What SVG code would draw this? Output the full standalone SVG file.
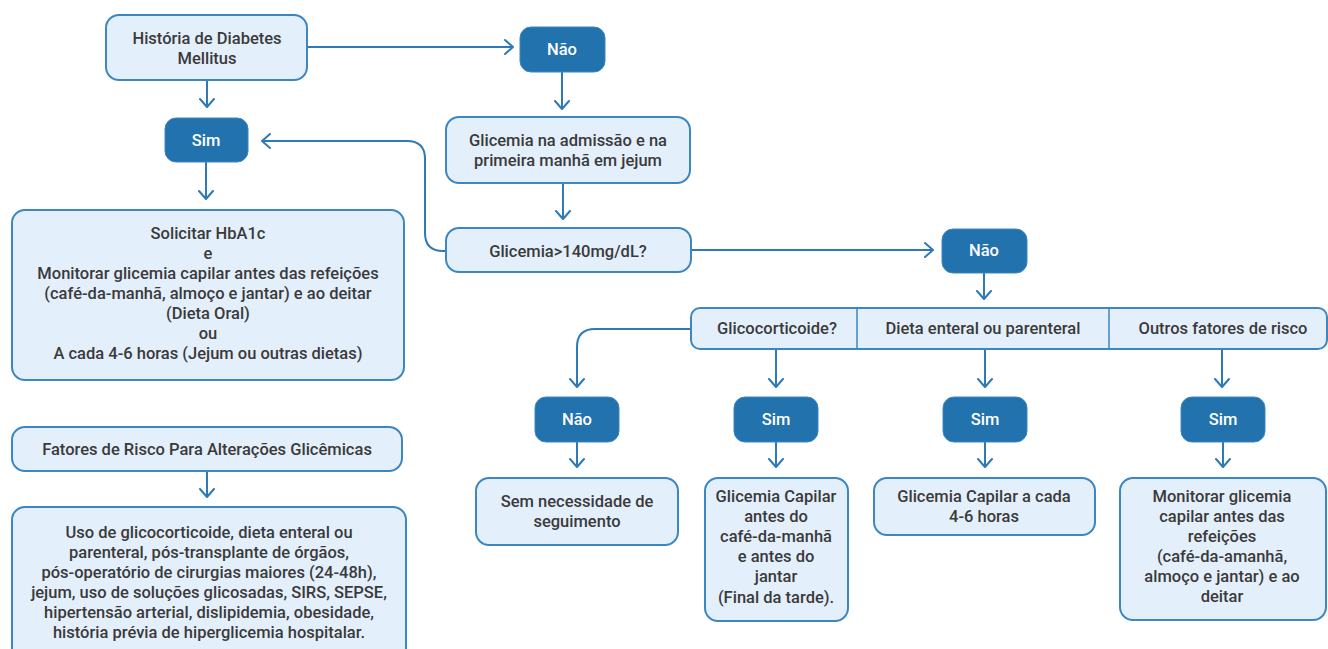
<svg xmlns="http://www.w3.org/2000/svg" width="1328" height="649" viewBox="0 0 1328 649">
<defs>
<marker id="arr" viewBox="0 0 10 16" refX="9" refY="8" markerWidth="10" markerHeight="16" markerUnits="userSpaceOnUse" orient="auto">
<path d="M1,1 L9,8 L1,15" fill="none" stroke="#2E7AB6" stroke-width="2" stroke-linecap="round" stroke-linejoin="round"/>
</marker>
<style>
.lt{fill:#E4EFFC;stroke:#3C86C2;stroke-width:2}
.dk{fill:#2272AE;stroke:#3C86C2;stroke-width:1}
.t{font-family:Roboto,"Liberation Sans",sans-serif;font-weight:500;font-size:16.5px;fill:#3A3A3A;text-anchor:middle}
.tw{font-family:Roboto,"Liberation Sans",sans-serif;font-weight:500;font-size:16.5px;fill:#FFFFFF;text-anchor:middle}
.c{fill:none;stroke:#2E7AB6;stroke-width:2;marker-end:url(#arr)}
</style>
</defs>
<rect width="1328" height="649" fill="#FFFFFF"/>
<g id="connectors">
<path class="c" d="M307,47 H513"/>
<path class="c" d="M207,81 V107"/>
<path class="c" d="M562,72 V109"/>
<path class="c" d="M206,162 V199"/>
<path class="c" d="M563,184 V219"/>
<path class="c" d="M446,251 H443 Q425,251 425,233 V159 Q425,141 407,141 H262"/>
<path class="c" d="M691,250 H933"/>
<path class="c" d="M984,273 V299"/>
<path class="c" d="M691,329 H595 Q577,329 577,347 V387"/>
<path class="c" d="M776,349 V387"/>
<path class="c" d="M985,349 V387"/>
<path class="c" d="M1222,349 V387"/>
<path class="c" d="M577,442 V467"/>
<path class="c" d="M776,442 V467"/>
<path class="c" d="M985,442 V467"/>
<path class="c" d="M1223,442 V467"/>
<path class="c" d="M207,471 V497"/>
</g>
<g id="n_historia">
<rect class="lt" x="106" y="15" width="201" height="65" rx="13"/>
<text class="t" x="207" y="44">História de Diabetes</text>
<text class="t" x="207" y="64">Mellitus</text>
</g>
<g id="n_nao1">
<rect class="dk" x="520" y="27" width="85" height="45" rx="11"/>
<text class="tw" x="562" y="55">Não</text>
</g>
<g id="n_sim1">
<rect class="dk" x="165" y="118" width="83" height="44" rx="11"/>
<text class="tw" x="206" y="146">Sim</text>
</g>
<g id="n_glic_adm">
<rect class="lt" x="446" y="117" width="244" height="66" rx="13"/>
<text class="t" x="568" y="146">Glicemia na admissão e na</text>
<text class="t" x="568" y="166">primeira manhã em jejum</text>
</g>
<g id="n_glic140">
<rect class="lt" x="446" y="228" width="245" height="44" rx="13"/>
<text class="t" x="568" y="257">Glicemia&gt;140mg/dL?</text>
</g>
<g id="n_nao2">
<rect class="dk" x="942" y="229" width="85" height="44" rx="11"/>
<text class="tw" x="984" y="256">Não</text>
</g>
<g id="n_solicitar">
<rect class="lt" x="12" y="210" width="392" height="170" rx="13"/>
<text class="t" x="208" y="239">Solicitar HbA1c</text>
<text class="t" x="208" y="259">e</text>
<text class="t" x="208" y="279">Monitorar glicemia capilar antes das refeições</text>
<text class="t" x="208" y="299">(café-da-manhã, almoço e jantar) e ao deitar</text>
<text class="t" x="208" y="319">(Dieta Oral)</text>
<text class="t" x="208" y="339">ou</text>
<text class="t" x="208" y="359">A cada 4-6 horas (Jejum ou outras dietas)</text>
</g>
<g id="n_fatores">
<rect class="lt" x="12" y="427" width="390" height="44" rx="13"/>
<text class="t" x="207" y="455">Fatores de Risco Para Alterações Glicêmicas</text>
</g>
<g id="n_uso">
<rect class="lt" x="12" y="507" width="394" height="160" rx="13"/>
<text class="t" x="209" y="538">Uso de glicocorticoide, dieta enteral ou</text>
<text class="t" x="209" y="558">parenteral, pós-transplante de órgãos,</text>
<text class="t" x="209" y="578">pós-operatório de cirurgias maiores (24-48h),</text>
<text class="t" x="209" y="598">jejum, uso de soluções glicosadas, SIRS, SEPSE,</text>
<text class="t" x="209" y="618">hipertensão arterial, dislipidemia, obesidade,</text>
<text class="t" x="209" y="638">história prévia de hiperglicemia hospitalar.</text>
</g>
<g id="n_bar">
<rect class="lt" x="691" y="308" width="636" height="41" rx="9"/>
<line x1="857" y1="308" x2="857" y2="349" stroke="#3C86C2" stroke-width="1.5"/>
<line x1="1109" y1="308" x2="1109" y2="349" stroke="#3C86C2" stroke-width="1.5"/>
<text class="t" x="777" y="334">Glicocorticoide?</text>
<text class="t" x="983" y="334">Dieta enteral ou parenteral</text>
<text class="t" x="1223" y="334">Outros fatores de risco</text>
</g>
<g id="n_nao3">
<rect class="dk" x="535" y="397" width="84" height="45" rx="11"/>
<text class="tw" x="577" y="425">Não</text>
</g>
<g id="n_sim2">
<rect class="dk" x="734" y="397" width="84" height="45" rx="11"/>
<text class="tw" x="776" y="425">Sim</text>
</g>
<g id="n_sim3">
<rect class="dk" x="943" y="397" width="84" height="45" rx="11"/>
<text class="tw" x="985" y="425">Sim</text>
</g>
<g id="n_sim4">
<rect class="dk" x="1181" y="397" width="84" height="45" rx="11"/>
<text class="tw" x="1223" y="425">Sim</text>
</g>
<g id="n_sem">
<rect class="lt" x="476" y="478" width="202" height="67" rx="13"/>
<text class="t" x="577" y="507">Sem necessidade de</text>
<text class="t" x="577" y="527">seguimento</text>
</g>
<g id="n_glic_cafe">
<rect class="lt" x="705" y="478" width="143" height="143" rx="13"/>
<text class="t" x="776" y="502">Glicemia Capilar</text>
<text class="t" x="776" y="522">antes do</text>
<text class="t" x="776" y="542">café-da-manhã</text>
<text class="t" x="776" y="562">e antes do</text>
<text class="t" x="776" y="582">jantar</text>
<text class="t" x="776" y="603">(Final da tarde).</text>
</g>
<g id="n_glic_46">
<rect class="lt" x="874" y="478" width="221" height="57" rx="13"/>
<text class="t" x="984" y="502">Glicemia Capilar a cada</text>
<text class="t" x="984" y="522">4-6 horas</text>
</g>
<g id="n_monitorar">
<rect class="lt" x="1120" y="478" width="206" height="142" rx="13"/>
<text class="t" x="1222" y="502">Monitorar glicemia</text>
<text class="t" x="1222" y="522">capilar antes das</text>
<text class="t" x="1222" y="542">refeições</text>
<text class="t" x="1222" y="562">(café-da-amanhã,</text>
<text class="t" x="1222" y="582">almoço e jantar) e ao</text>
<text class="t" x="1222" y="602">deitar</text>
</g>
</svg>
